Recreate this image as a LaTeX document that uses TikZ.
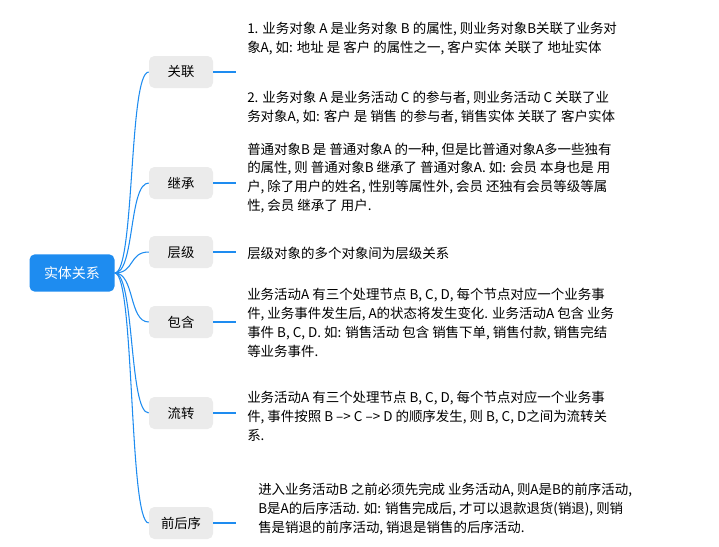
\documentclass[tikz,border=0pt]{standalone}
\usepackage{fontspec}
\usetikzlibrary{calc}
\setmainfont{Noto Sans CJK SC}
\begin{document}
\begin{tikzpicture}[x=0.75pt,y=-0.75pt,
  rootbox/.style={rounded corners=4pt, text=white, minimum width=63.75pt, minimum height=28pt, font=\fontsize{10.5}{12}\selectfont},
  childbox/.style={fill=black!8, rounded corners=4pt, minimum width=48pt, minimum height=24pt, font=\fontsize{10}{12}\selectfont},
  desc/.style={anchor=west, align=left, font=\fontsize{10.1}{14.2}\selectfont, inner sep=0pt},
  link/.style={draw=rb, line width=0.8pt}]
\definecolor{rb}{HTML}{1E8CF0}
\useasboundingbox (0,0) rectangle (719,547);
\node[rootbox, fill=rb] (root) at (72,273) {实体关系};
\foreach \n/\t/\y in {a/关联/72, b/继承/183, c/层级/252, d/包含/322, e/流转/413, f/前后序/523}{
  \node[childbox] (\n) at (181,\y) {\t};
  \draw[link] (root.east) .. controls ($(root.east)+(20,0)$) and ($(\n.west)+(-20,0)$) .. (\n.west);
  \coordinate (\n e) at (236,\y);
  \draw[link] (\n.east) -- (\n e);
}
\node[desc] (ta1) at (247,39) {1. 业务对象 A 是业务对象 B 的属性, 则业务对象B关联了业务对\\象A, 如: 地址 是 客户 的属性之一, 客户实体 关联了 地址实体};
\node[desc] (ta2) at (247,108) {2. 业务对象 A 是业务活动 C 的参与者, 则业务活动 C 关联了业\\务对象A, 如: 客户 是 销售 的参与者, 销售实体 关联了 客户实体};
\node[desc] (tb) at (247,178) {普通对象B 是 普通对象A 的一种, 但是比普通对象A多一些独有\\的属性, 则 普通对象B 继承了 普通对象A. 如: 会员 本身也是 用\\户, 除了用户的姓名, 性别等属性外, 会员 还独有会员等级等属\\性, 会员 继承了 用户.};
\node[desc] (tc) at (247,253) {层级对象的多个对象间为层级关系};
\node[desc] (td) at (247,323) {业务活动A 有三个处理节点 B, C, D, 每个节点对应一个业务事\\件, 业务事件发生后, A的状态将发生变化. 业务活动A 包含 业务\\事件 B, C, D. 如: 销售活动 包含 销售下单, 销售付款, 销售完结\\等业务事件.};
\node[desc] (te) at (247,416) {业务活动A 有三个处理节点 B, C, D, 每个节点对应一个业务事\\件, 事件按照 B --> C --> D 的顺序发生, 则 B, C, D之间为流转关\\系.};
\node[desc] (tf) at (258,509) {进入业务活动B 之前必须先完成 业务活动A, 则A是B的前序活动,\\B是A的后序活动. 如: 销售完成后, 才可以退款退货(销退), 则销\\售是销退的前序活动, 销退是销售的后序活动.};
\end{tikzpicture}
\end{document}
